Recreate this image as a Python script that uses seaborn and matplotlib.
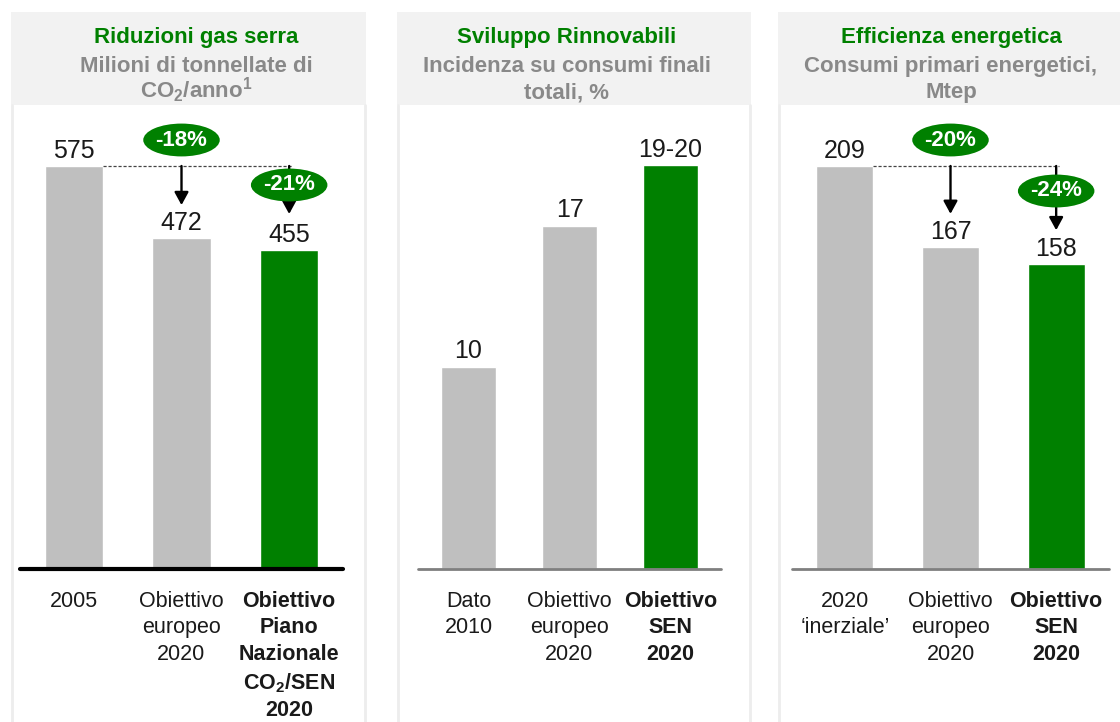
import matplotlib
matplotlib.use("Agg")
import matplotlib.pyplot as plt
from matplotlib.patches import Rectangle
from matplotlib.lines import Line2D
import seaborn as sns
import pandas as pd

# ---------------- data ----------------
cats_ghg = ["2005", "Obiettivo\neuropeo\n2020",
            "Obiettivo\nPiano\nNazionale\nCO$_\\mathbf{2}$/SEN\n2020"]
vals_ghg = [575, 472, 455]
labels_ghg = ["575", "472", "455"]

cats_ren = ["Dato\n2010", "Obiettivo\neuropeo\n2020", "Obiettivo\nSEN\n2020"]
vals_ren = [10, 17, 20]
labels_ren = ["10", "17", "19-20"]

cats_eff = ["2020\n\u2018inerziale\u2019", "Obiettivo\neuropeo\n2020", "Obiettivo\nSEN\n2020"]
vals_eff = [209, 167, 158]
labels_eff = ["209", "167", "158"]

titles = ["Riduzioni gas serra", "Sviluppo Rinnovabili", "Efficienza energetica"]
subtitles = [["Milioni di tonnellate di", "CO$_\\mathbf{2}$/anno$^\\mathbf{1}$"],
             ["Incidenza su consumi finali", "totali, %"],
             ["Consumi primari energetici,", "Mtep"]]
pct_ghg = ["-18%", "-21%"]
pct_eff = ["-20%", "-24%"]

# ---------------- style ----------------
sns.set_theme(style="white")
plt.rcParams["font.family"] = ["Liberation Sans", "DejaVu Sans"]
plt.rcParams["mathtext.fontset"] = "custom"
plt.rcParams["mathtext.rm"] = "Liberation Sans"
plt.rcParams["mathtext.bf"] = "Liberation Sans:bold"
plt.rcParams["mathtext.it"] = "Liberation Sans:italic"

GREEN = "#008000"
GREY_BAR = "#BFBFBF"
GREY_TXT = "#898989"
HEAD_BG = "#F2F2F2"
BORDER = "#EDEDED"

W, H = 1120, 722
fig = plt.figure(figsize=(W / 100, H / 100), dpi=100)
fig.patch.set_facecolor("white")


def fx(x):
    return x / W


def fy(y):
    return 1 - y / H


# panel frames (header boxes + side borders)
frames = [(11, 366), (397, 751), (778, 1130)]
for (l, r) in frames:
    fig.add_artist(Rectangle((fx(l), fy(105)), fx(r - l), (105 - 12) / H,
                             transform=fig.transFigure, facecolor=HEAD_BG,
                             edgecolor="none", zorder=0))
    for xx in (l + 1, r - 1):
        fig.add_artist(Line2D([fx(xx), fx(xx)], [fy(105), fy(722)],
                              transform=fig.transFigure, color=BORDER, lw=2, zorder=0))

# header texts
centers = [196, 567, 951]
for cx, t, subs in zip(centers, titles, subtitles):
    fig.text(fx(cx), fy(43), t, ha="center", va="baseline", fontsize=16,
             fontweight="bold", color=GREEN)
    fig.text(fx(cx), fy(72), subs[0], ha="center", va="baseline", fontsize=16,
             fontweight="bold", color=GREY_TXT)
    fig.text(fx(cx), fy(98), subs[1], ha="center", va="baseline", fontsize=16,
             fontweight="bold", color=GREY_TXT)

# axes geometry (pixels)
BASE, TOP = 568.5, 110
panels = [
    dict(L=20, R=343, cats=cats_ghg, vals=vals_ghg, labels=labels_ghg,
         topy=166, base_c="black", base_lw=3),
    dict(L=418, R=721, cats=cats_ren, vals=vals_ren, labels=labels_ren,
         topy=165, base_c="#7F7F7F", base_lw=2),
    dict(L=792, R=1109, cats=cats_eff, vals=vals_eff, labels=labels_eff,
         topy=166, base_c="#7F7F7F", base_lw=2),
]

axes = []
for p in panels:
    ax = fig.add_axes([fx(p["L"]), fy(BASE), fx(p["R"] - p["L"]), (BASE - TOP) / H])
    ax.set_facecolor("none")
    keys = [f"k{i}" for i in range(len(p["vals"]))]
    df = pd.DataFrame({"cat": keys, "val": p["vals"]})
    sns.barplot(data=df, x="cat", y="val", hue="cat", order=keys,
                palette=[GREY_BAR, GREY_BAR, GREEN], legend=False,
                width=0.54, saturation=1, ax=ax, zorder=2)
    vmax = max(p["vals"])
    ymax = (BASE - TOP) / (BASE - p["topy"]) * vmax
    ax.set_xlim(-0.5, 2.5)
    ax.set_ylim(0, ymax)
    for s in ax.spines.values():
        s.set_visible(False)
    ax.set_yticks([])
    ax.set_xlabel("")
    ax.set_ylabel("")
    ax.set_xticks(range(len(keys)))
    ax.set_xticklabels(p["cats"], fontsize=15.5, color="#1a1a1a", linespacing=1.35)
    ax.get_xticklabels()[-1].set_fontweight("bold")
    ax.tick_params(axis="x", length=0, pad=16)
    ax.axhline(0, color=p["base_c"], lw=p["base_lw"], zorder=3, clip_on=False)
    for i, (v, lab) in enumerate(zip(p["vals"], p["labels"])):
        ax.annotate(lab, xy=(i, v), xytext=(0, 6), textcoords="offset points",
                    ha="center", va="baseline", fontsize=18, color="#1a1a1a",
                    annotation_clip=False)
    axes.append(ax)

PX = 0.72  # px -> points


def reduction(ax, vals, pcts, up_off, down_off, gaps):
    v0 = vals[0]
    ax.plot([0.27, 2.03], [v0, v0], color="#444444", lw=0.9,
            linestyle=(0, (2.5, 1.5)), zorder=4)
    arrow = dict(arrowstyle="-|>,head_length=0.55,head_width=0.3",
                 mutation_scale=14, color="black", lw=1.7, shrinkA=0)
    # first (european target)
    ax.annotate("", xy=(1, vals[1]), xytext=(1, v0),
                arrowprops=dict(arrow, shrinkB=gaps[0] * PX), zorder=4)
    ax.annotate(pcts[0], xy=(1, v0), xytext=(0, up_off * PX), textcoords="offset points",
                ha="center", va="center", fontsize=16, fontweight="bold", color="white",
                bbox=dict(boxstyle="ellipse,pad=0.05", fc=GREEN, ec="none"),
                zorder=6, annotation_clip=False)
    # second (national target)
    ax.annotate("", xy=(2, vals[2]), xytext=(2, v0),
                arrowprops=dict(arrow, shrinkB=gaps[1] * PX), zorder=4)
    ax.annotate(pcts[1], xy=(2, v0), xytext=(0, -down_off * PX), textcoords="offset points",
                ha="center", va="center", fontsize=16, fontweight="bold", color="white",
                bbox=dict(boxstyle="ellipse,pad=0.05", fc=GREEN, ec="none"),
                zorder=6, annotation_clip=False)


reduction(axes[0], vals_ghg, pct_ghg, 26, 19, (33, 36))
reduction(axes[2], vals_eff, pct_eff, 26, 25, (33, 34))

fig.savefig("out.png", dpi=100, facecolor="white")
